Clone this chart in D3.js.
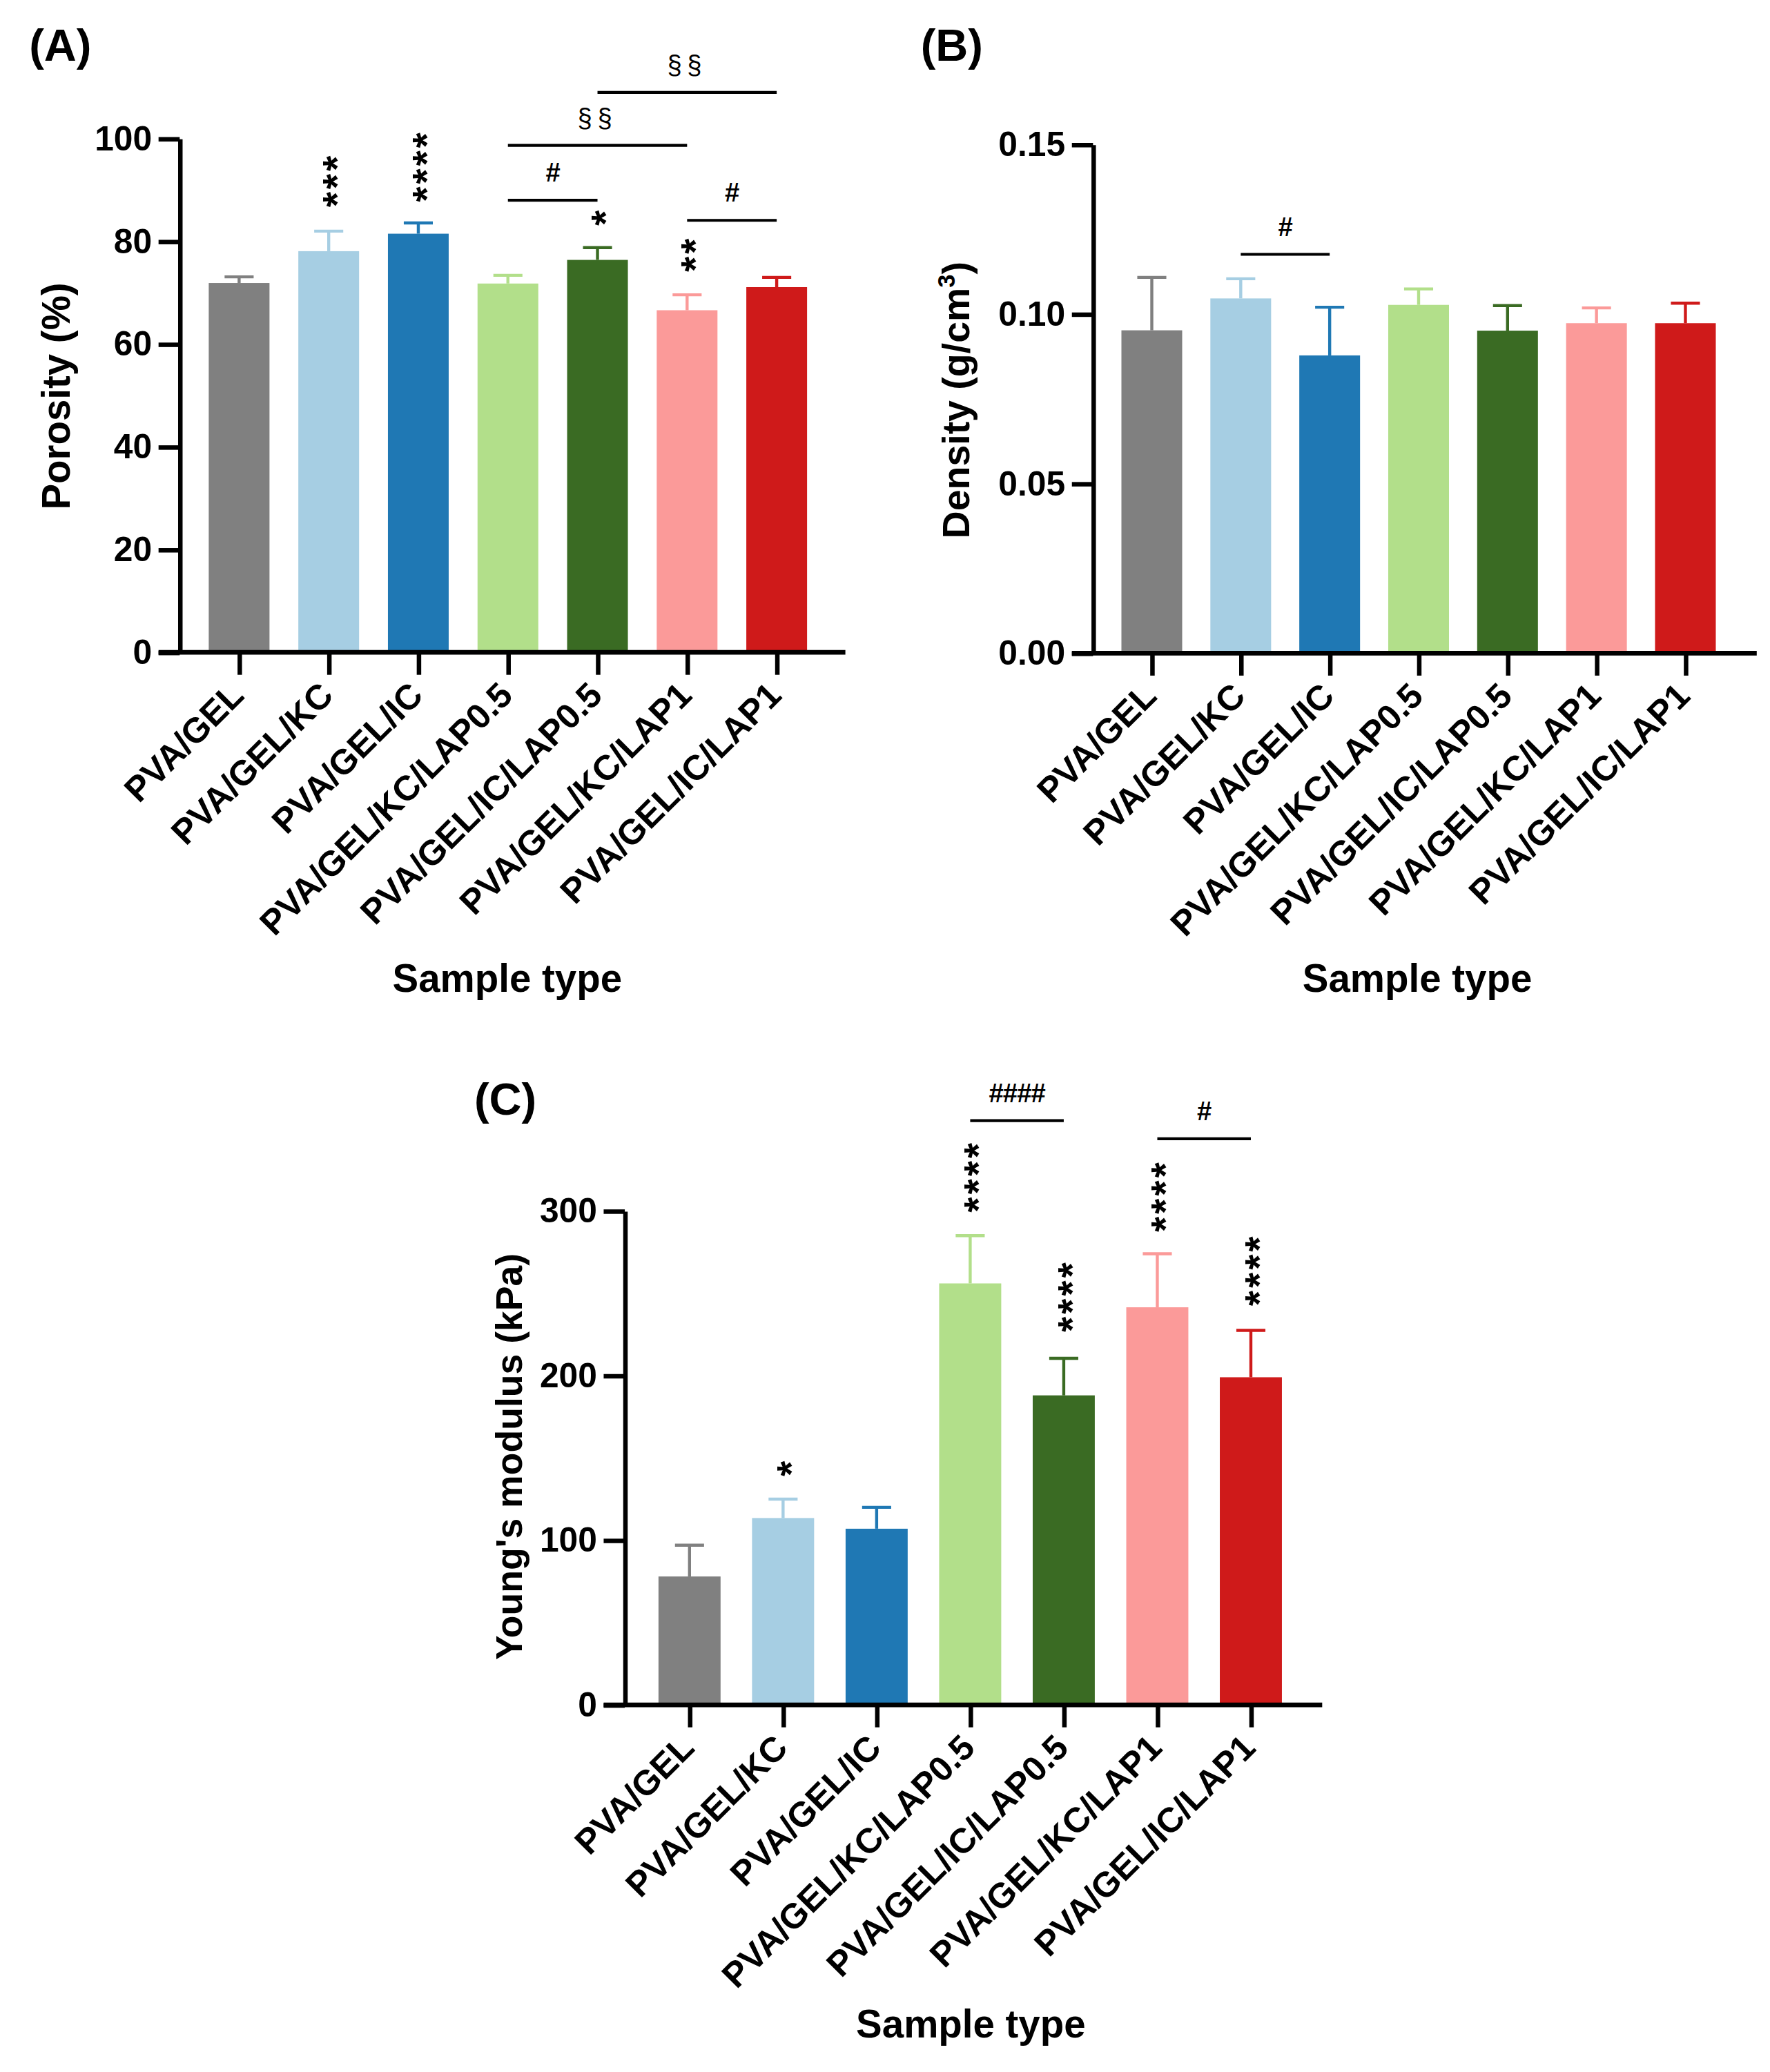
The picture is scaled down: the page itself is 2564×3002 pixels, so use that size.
<!DOCTYPE html>
<html><head><meta charset="utf-8">
<script src="https://cdn.jsdelivr.net/npm/d3@7"></script>
<style>body{margin:0;background:#fff} svg{display:block}</style>
</head><body>
<script>
// ---------- data ----------
const categories = ["PVA/GEL","PVA/GEL/KC","PVA/GEL/IC","PVA/GEL/KC/LAP0.5","PVA/GEL/IC/LAP0.5","PVA/GEL/KC/LAP1","PVA/GEL/IC/LAP1"];
const colors = ["#808080","#a6cee3","#1f78b4","#b2df8a","#3a6b23","#fb9a99","#cf1a1a"];

const porosityMean = [71.9, 78.1, 81.5, 71.8, 76.4, 66.6, 71.1];
const porositySD   = [1.2, 3.9, 2.1, 1.6, 2.4, 3.0, 1.9];
const densityMean  = [0.0952, 0.1046, 0.0878, 0.1027, 0.0951, 0.0973, 0.0973];
const densitySD    = [0.0156, 0.0058, 0.0142, 0.0047, 0.0074, 0.0045, 0.0059];
const modulusMean  = [78, 113.5, 107, 256, 188, 241.5, 199];
const modulusSD    = [19, 11.5, 13, 29, 22.5, 32.5, 28.5];

const porosityTicks = [0, 20, 40, 60, 80, 100];
const densityTicks  = [0, 0.05, 0.10, 0.15];
const modulusTicks  = [0, 100, 200, 300];

// significance marks: category index, star string, value just under the star stack
const porosityStars = [{i:1,s:"***",v:86.9},{i:2,s:"****",v:87.9},{i:4,s:"*",v:83.3},{i:5,s:"**",v:74.3}];
const densityStars  = [];
const modulusStars  = [{i:1,s:"*",v:139.6},{i:3,s:"****",v:299.9},{i:4,s:"****",v:227.2},{i:5,s:"****",v:288},{i:6,s:"****",v:243.1}];

// brackets: from category a to b at value v
const porosityBrackets = [{a:3,b:4,v:88.0,label:"#"},{a:3,b:5,v:98.7,label:"§§"},{a:4,b:6,v:109.0,label:"§§"},{a:5,b:6,v:84.1,label:"#"}];
const densityBrackets  = [{a:1,b:2,v:0.1176,label:"#"}];
const modulusBrackets  = [{a:3,b:4,v:354.9,label:"####"},{a:5,b:6,v:343.9,label:"#"}];

// ---------- drawing ----------
const W = 1340, H = 1569;
const svg = d3.select("body").append("svg")
  .attr("width", 2564).attr("height", 3002)
  .attr("viewBox", `0 0 ${W} ${H}`)
  .style("font-family", "'Liberation Sans', Arial, Helvetica, sans-serif");

function panel(cfg) {
  const g = svg.append("g");
  const x = d3.scalePoint().domain(categories).range(cfg.xRange);
  const y = d3.scaleLinear().domain(cfg.yDomain).range(cfg.yRange);
  const y0 = y(0);
  const bw = cfg.barWidth;

  // bars
  g.selectAll("rect.bar").data(cfg.means).join("rect")
    .attr("class","bar")
    .attr("x", (d,i) => x(categories[i]) - bw/2)
    .attr("width", bw)
    .attr("y", d => y(d))
    .attr("height", d => y0 - y(d))
    .attr("fill", (d,i) => colors[i]);

  // error bars (upper only)
  const eb = g.selectAll("g.eb").data(cfg.means).join("g").attr("class","eb")
    .attr("stroke", (d,i) => colors[i]).attr("stroke-width", 2.3);
  eb.append("line")
    .attr("x1", (d,i) => x(categories[i])).attr("x2", (d,i) => x(categories[i]))
    .attr("y1", d => y(d)).attr("y2", (d,i) => y(d + cfg.sds[i]));
  eb.append("line")
    .attr("x1", (d,i) => x(categories[i]) - 11).attr("x2", (d,i) => x(categories[i]) + 11)
    .attr("y1", (d,i) => y(d + cfg.sds[i])).attr("y2", (d,i) => y(d + cfg.sds[i]));

  // y axis
  const ya = g.append("g").attr("transform", `translate(${cfg.axisX},0)`)
    .call(d3.axisLeft(y).tickValues(cfg.ticks).tickFormat(cfg.fmt).tickSize(16).tickSizeOuter(0).tickPadding(5));
  ya.select(".domain").attr("stroke","#000").attr("stroke-width",3.4);
  ya.selectAll(".tick line").attr("stroke","#000").attr("stroke-width",3.4);
  ya.selectAll(".tick text").attr("font-size",26).attr("font-weight","bold").attr("fill","#000")
    .attr("font-family","'Liberation Sans', Arial, sans-serif");

  // x axis line + ticks
  g.append("line").attr("x1", cfg.axisX - 16).attr("x2", cfg.xEnd)
    .attr("y1", y0).attr("y2", y0).attr("stroke","#000").attr("stroke-width",3.6);
  const xa = g.append("g").attr("transform", `translate(0,${y0})`)
    .call(d3.axisBottom(x).tickSize(17).tickFormat(""));
  xa.select(".domain").remove();
  xa.selectAll(".tick line").attr("stroke","#000").attr("stroke-width",3.4);

  // category labels
  g.selectAll("text.cat").data(categories).join("text").attr("class","cat")
    .attr("transform", d => `translate(${x(d) + 5},${y0 + 34}) rotate(-45)`)
    .attr("text-anchor","end").attr("font-size",26.5).attr("font-weight","bold")
    .text(d => d);

  // axis titles
  const yt = g.append("text")
    .attr("transform", `translate(${cfg.yTitlePos[0]},${cfg.yTitlePos[1]}) rotate(-90)`)
    .attr("text-anchor","middle").attr("font-size",cfg.yTitleSize).attr("font-weight","bold");
  cfg.yTitle(yt);
  g.append("text").attr("x", cfg.xTitlePos[0]).attr("y", cfg.xTitlePos[1])
    .attr("text-anchor","middle").attr("font-size",29.5).attr("font-weight","bold")
    .text("Sample type");

  // panel letter
  g.append("text").attr("x", cfg.letterPos[0]).attr("y", cfg.letterPos[1])
    .attr("font-size",34).attr("font-weight","bold").text(cfg.letter);

  // stars (vertical stack, drawn as rotated text)
  const fs = 30;
  cfg.stars.forEach(s => {
    const cx = x(categories[s.i]);
    const yb = y(s.v);
    g.append("text")
      .attr("transform", `translate(${cx + 0.55*fs},${yb + 1}) rotate(-90)`)
      .attr("font-size", fs).attr("font-weight","bold").attr("letter-spacing", 2)
      .text(s.s);
  });

  // brackets
  cfg.brackets.forEach(b => {
    const xa1 = x(categories[b.a]), xb1 = x(categories[b.b]);
    const yy = y(b.v);
    g.append("line").attr("x1", xa1).attr("x2", xb1).attr("y1", yy).attr("y2", yy)
      .attr("stroke","#000").attr("stroke-width",2.2);
    g.append("text").attr("x", (xa1 + xb1)/2).attr("y", yy - 14)
      .attr("text-anchor","middle").attr("font-size",20)
      .attr("font-weight", b.label.startsWith("§") ? "normal" : "bold")
      .attr("letter-spacing", b.label.startsWith("§") ? 4 : -0.5)
      .text(b.label);
  });
}

panel({
  xRange:[181,588], axisX:136, xEnd:640, yDomain:[0,100], yRange:[494,105], barWidth:46,
  means:porosityMean, sds:porositySD, ticks:porosityTicks, fmt:d3.format("d"),
  stars:porosityStars, brackets:porosityBrackets,
  yTitle: t => t.text("Porosity (%)"), yTitlePos:[53,300], yTitleSize:29.5,
  xTitlePos:[384,751], letter:"(A)", letterPos:[22,46]
});

panel({
  xRange:[872,1276], axisX:827.5, xEnd:1330, yDomain:[0,0.15], yRange:[494.6,109.4], barWidth:46,
  means:densityMean, sds:densitySD, ticks:densityTicks, fmt:d3.format(".2f"),
  stars:densityStars, brackets:densityBrackets,
  yTitle: t => { t.append("tspan").text("Density (g/cm");
                 t.append("tspan").attr("font-size",18).attr("dy",-11).text("3");
                 t.append("tspan").attr("dy",11).text(")"); },
  yTitlePos:[734,303], yTitleSize:29,
  xTitlePos:[1073,751], letter:"(B)", letterPos:[697,46]
});

panel({
  xRange:[522,947], axisX:473, xEnd:1001, yDomain:[0,300], yRange:[1291,917], barWidth:47,
  means:modulusMean, sds:modulusSD, ticks:modulusTicks, fmt:d3.format("d"),
  stars:modulusStars, brackets:modulusBrackets,
  yTitle: t => t.text("Young's modulus (kPa)"), yTitlePos:[395,1103], yTitleSize:28,
  xTitlePos:[735,1543], letter:"(C)", letterPos:[359,844]
});
</script>
</body></html>
